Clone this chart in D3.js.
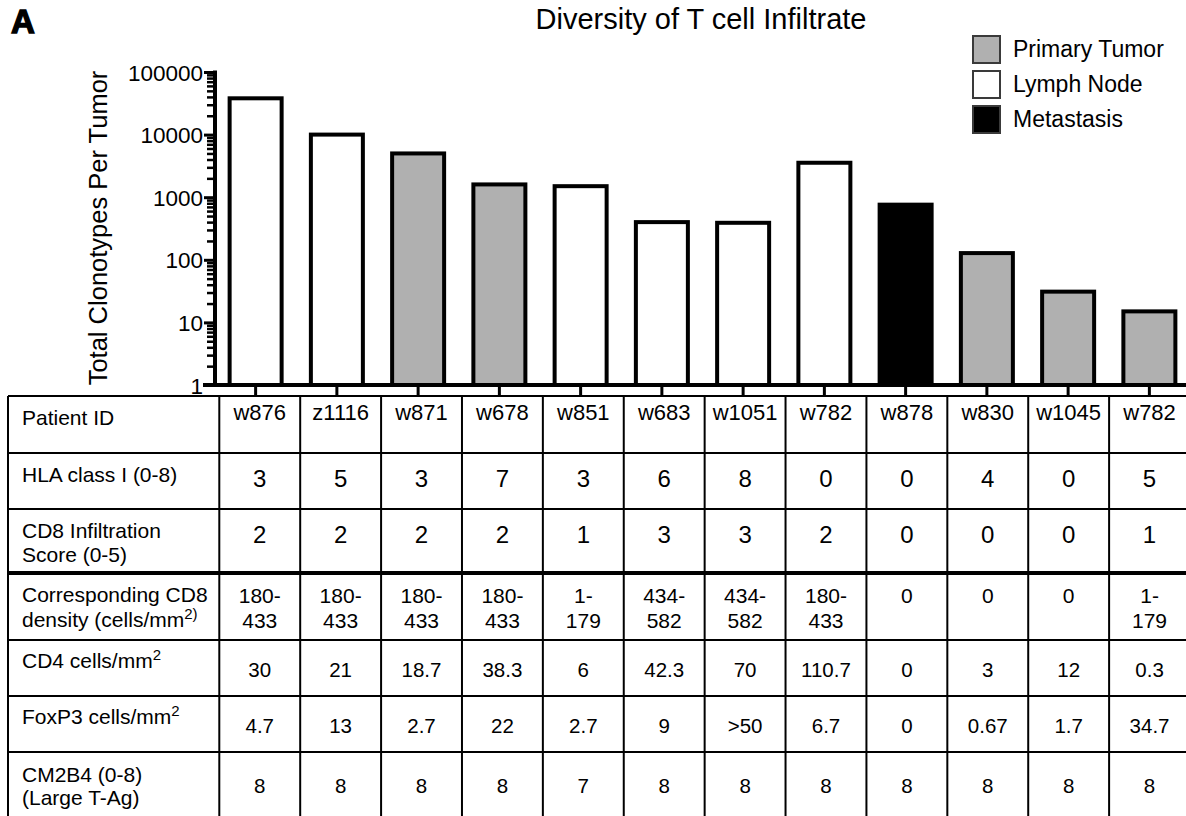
<!DOCTYPE html>
<html>
<head>
<meta charset="utf-8">
<script src="https://cdn.jsdelivr.net/npm/d3@7"></script>
<style>
  html, body { margin: 0; padding: 0; background: #fff; }
  svg { display: block; font-family: "Liberation Sans", Arial, Helvetica, sans-serif; }
</style>
</head>
<body>
<svg id="chart" width="1186" height="816"></svg>
<script>
// Patients, in plotting order
const patients = ["w876", "z1116", "w871", "w678", "w851", "w683", "w1051", "w782", "w878", "w830", "w1045", "w782"];
// Total clonotypes per tumor
const clonotypes = [38000, 10000, 5000, 1600, 1500, 400, 390, 3550, 760, 128, 31, 15];
// Sample source for each bar
const tissue = ["Lymph Node", "Lymph Node", "Primary Tumor", "Primary Tumor", "Lymph Node", "Lymph Node",
                "Lymph Node", "Lymph Node", "Metastasis", "Primary Tumor", "Primary Tumor", "Primary Tumor"];
const tissueTypes = ["Primary Tumor", "Lymph Node", "Metastasis"];
const tissueFill = ["#b0b0b0", "#ffffff", "#000000"];

// Table rows
const hlaClassI = ["3", "5", "3", "7", "3", "6", "8", "0", "0", "4", "0", "5"];
const cd8Score = ["2", "2", "2", "2", "1", "3", "3", "2", "0", "0", "0", "1"];
const cd8Density = ["180-433", "180-433", "180-433", "180-433", "1-179", "434-582", "434-582", "180-433", "0", "0", "0", "1-179"];
const cd4Cells = ["30", "21", "18.7", "38.3", "6", "42.3", "70", "110.7", "0", "3", "12", "0.3"];
const foxp3Cells = ["4.7", "13", "2.7", "22", "2.7", "9", ">50", "6.7", "0", "0.67", "1.7", "34.7"];
const cm2b4 = ["8", "8", "8", "8", "7", "8", "8", "8", "8", "8", "8", "8"];

const yTickValues = [1, 10, 100, 1000, 10000, 100000];

const svg = d3.select("#chart");
const idx = d3.range(patients.length);

// ---------- Bar chart ----------
const x = d3.scaleBand().domain(idx).range([215, 1190]).paddingInner(0.36).paddingOuter(0.18);
const y = d3.scaleLog().domain([1, 100000]).range([385, 72]);
const color = d3.scaleOrdinal().domain(tissueTypes).range(tissueFill);

// minor log ticks
const minorTicks = [];
for (let e = 0; e < 5; e++) for (let m = 2; m <= 9; m++) minorTicks.push(m * Math.pow(10, e));

const yMinor = svg.append("g").attr("transform", "translate(215,0)")
  .call(d3.axisLeft(y).tickValues(minorTicks).tickSize(8).tickFormat(""));
yMinor.select(".domain").remove();
yMinor.selectAll(".tick line").attr("stroke", "#000").attr("stroke-width", 2.5);

const yMajor = svg.append("g").attr("transform", "translate(215,0)")
  .call(d3.axisLeft(y).tickValues(yTickValues).tickSize(11).tickSizeOuter(0).tickPadding(1).tickFormat(d3.format("d")));
yMajor.select(".domain").attr("stroke", "#000").attr("stroke-width", 4)
  .attr("d", "M0,70.5V387");
yMajor.selectAll(".tick line").attr("stroke", "#000").attr("stroke-width", 3);
yMajor.selectAll(".tick text").attr("fill", "#000")
  .style("font-size", "22.5px").style("font-family", "'Liberation Sans', Arial, sans-serif")
  .attr("dy", "0.36em");

// bars
svg.append("g").selectAll("rect").data(idx).join("rect")
  .attr("x", i => x(i))
  .attr("width", x.bandwidth())
  .attr("y", i => y(clonotypes[i]))
  .attr("height", i => y(1) - y(clonotypes[i]))
  .attr("fill", i => color(tissue[i]))
  .attr("stroke", "#000")
  .attr("stroke-width", 4);

// x axis
const xAxis = svg.append("g").attr("transform", "translate(0,385)")
  .call(d3.axisBottom(x).tickSize(11).tickSizeOuter(0).tickFormat(""));
xAxis.select(".domain").attr("stroke", "#000").attr("stroke-width", 4).attr("d", "M203,0H1190");
xAxis.selectAll(".tick line").attr("stroke", "#000").attr("stroke-width", 3);

// y axis title
svg.append("text")
  .attr("transform", "translate(107,228) rotate(-90)")
  .attr("text-anchor", "middle")
  .style("font-size", "25.5px")
  .text("Total Clonotypes Per Tumor");

// chart title and panel letter
svg.append("text").attr("x", 701).attr("y", 29).attr("text-anchor", "middle")
  .style("font-size", "29px").text("Diversity of T cell Infiltrate");
svg.append("text").attr("x", 11).attr("y", 33)
  .style("font-size", "33px").style("font-weight", "bold")
  .attr("stroke", "#000").attr("stroke-width", 1.4)
  .text("A");

// legend
const legend = svg.append("g").selectAll("g").data(tissueTypes).join("g")
  .attr("transform", (d, i) => `translate(973,${36 + i * 35})`);
legend.append("rect").attr("width", 27).attr("height", 27)
  .attr("fill", d => color(d)).attr("stroke", "#3a3a3a").attr("stroke-width", 2);
legend.append("text").attr("x", 40).attr("y", 21)
  .style("font-size", "23px").text(d => d);

// ---------- Data table ----------
const col = d3.scaleBand().domain(idx).range([219.3, 1190]);
const rowTops = [396, 453, 509, 573, 640, 696, 752, 840];
const table = svg.append("g");

// horizontal rules
table.selectAll("line.h").data(rowTops.slice(0, 7)).join("line")
  .attr("x1", 8).attr("x2", 1190)
  .attr("y1", d => d).attr("y2", d => d)
  .attr("stroke", "#000")
  .attr("stroke-width", (d, i) => i === 3 ? 4 : 2);
// vertical rules
const vx = [8].concat(idx.map(i => col(i)), [col.range()[1]]);
table.selectAll("line.v").data(vx).join("line")
  .attr("x1", d => d).attr("x2", d => d)
  .attr("y1", 396).attr("y2", 840)
  .attr("stroke", "#000").attr("stroke-width", 2);

// row labels
function label(lines, baselines) {
  lines.forEach((ln, k) => {
    const t = table.append("text").attr("x", 22).attr("y", baselines[k]).style("font-size", "21px");
    if (Array.isArray(ln)) {
      t.append("tspan").text(ln[0]);
      t.append("tspan").attr("dy", -8).style("font-size", "15px").text(ln[1]);
    } else {
      t.text(ln);
    }
  });
}
label(["Patient ID"], [425]);
label(["HLA class I (0-8)"], [482]);
label(["CD8 Infiltration", "Score (0-5)"], [538, 562]);
label(["Corresponding CD8", ["density (cells/mm", "2)"]], [602, 627]);
label([["CD4 cells/mm", "2"]], [668]);
label([["FoxP3 cells/mm", "2"]], [724]);
label(["CM2B4 (0-8)", "(Large T-Ag)"], [782, 805]);

const cx = i => col(i) + col.bandwidth() / 2;

function valueRow(values, baseline, size) {
  table.append("g").selectAll("text").data(idx).join("text")
    .attr("x", cx).attr("y", baseline).attr("text-anchor", "middle")
    .style("font-size", size + "px")
    .text(i => values[i]);
}
valueRow(patients, 420, 22);
valueRow(hlaClassI, 487, 24);
valueRow(cd8Score, 543, 24);
valueRow(cd4Cells, 677, 20.5);
valueRow(foxp3Cells, 733, 20.5);
valueRow(cm2b4, 793, 20.5);

// CD8 density ranges wrap after the hyphen
table.append("g").selectAll("text").data(idx).join("text")
  .attr("text-anchor", "middle").style("font-size", "21px")
  .each(function (i) {
    const parts = cd8Density[i].includes("-")
      ? [cd8Density[i].split("-")[0] + "-", cd8Density[i].split("-")[1]]
      : [cd8Density[i]];
    d3.select(this).selectAll("tspan").data(parts).join("tspan")
      .attr("x", cx(i)).attr("y", (d, k) => 603 + k * 25).text(d => d);
  });
</script>
</body>
</html>
